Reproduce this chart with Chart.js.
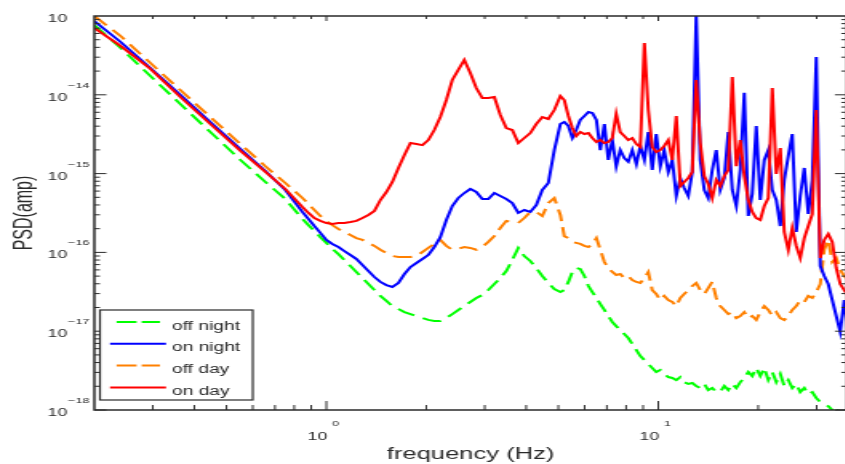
<!DOCTYPE html>
<html>
<head>
<meta charset="utf-8">
<title>PSD</title>
<script src="https://cdn.jsdelivr.net/npm/chart.js@4.4.1/dist/chart.umd.min.js"></script>
<style>
  html, body { margin: 0; padding: 0; background: #fff; overflow: hidden; }
  canvas { display: block; }
</style>
</head>
<body>
<!-- the source figure is stretched sideways, so the canvas is drawn narrow and widened by css -->
<canvas id="psd" width="532" height="464" style="width:851.2px;height:464px"></canvas>
<script>
const freq = [
  0.2, 0.24, 0.295, 0.363, 0.447, 0.551, 0.655, 0.752,
  0.847, 0.883, 0.920, 0.959, 1.000, 1.042, 1.087, 1.133, 1.181, 1.231,
  1.284, 1.338, 1.395, 1.454, 1.516, 1.580, 1.648, 1.718, 1.791, 1.867,
  1.946, 2.029, 2.115, 2.205, 2.299, 2.396, 2.498, 2.604, 2.715, 2.830,
  2.951, 3.076, 3.207, 3.343, 3.485, 3.633, 3.787, 3.948, 4.116, 4.291,
  4.473, 4.664, 4.862,
  5.07, 5.21, 5.36, 5.51, 5.66, 5.82, 5.99, 6.16, 6.33, 6.51,
  6.69, 6.88, 7.07, 7.27, 7.47, 7.68, 7.90, 8.12, 8.35, 8.59,
  8.83, 9.08, 9.33, 9.59, 9.86, 10.14, 10.42, 10.72, 11.02, 11.33,
  11.65, 11.97, 12.31, 12.66, 13.01, 13.38, 13.76, 14.14, 14.54, 14.95,
  15.37, 15.81, 16.25, 16.71, 17.18, 17.66, 18.16, 18.67, 19.19, 19.73,
  20.29, 20.86, 21.45, 22.05, 22.67, 23.31, 23.96, 24.64, 25.33, 26.04,
  26.77, 27.53, 28.30, 29.10, 29.92, 30.76, 31.62, 32.51, 33.42, 34.36,
  35.33, 36.32, 37.35
];

const offNight = [
  7.68e-14, 3.93e-14, 1.73e-14, 7.64e-15, 3.37e-15, 1.49e-15, 7.83e-16, 4.76e-16,
  2.66e-16, 2.22e-16, 1.87e-16, 1.56e-16, 1.32e-16, 1.11e-16, 9.5e-17, 8.01e-17, 6.72e-17, 5.64e-17,
  4.73e-17, 3.97e-17, 3.33e-17, 2.80e-17, 2.42e-17, 2.08e-17, 1.91e-17, 1.75e-17, 1.65e-17, 1.56e-17,
  1.47e-17, 1.39e-17, 1.35e-17, 1.35e-17, 1.47e-17, 1.65e-17, 1.86e-17, 2.08e-17, 2.35e-17, 2.64e-17,
  2.88e-17, 3.33e-17, 3.97e-17, 4.73e-17, 5.81e-17, 8.01e-17, 1.14e-16, 9.0e-17, 7.78e-17, 6.34e-17,
  5.02e-17, 4.09e-17, 3.43e-17,
  3.14e-17, 3.33e-17, 4.22e-17, 5.64e-17, 6.34e-17, 6.16e-17, 5.02e-17, 3.74e-17, 3.14e-17, 2.64e-17,
  2.21e-17, 1.86e-17, 1.56e-17, 1.31e-17, 1.16e-17, 1.04e-17, 9.21e-18, 8.19e-18, 6.88e-18, 5.77e-18,
  4.84e-18, 4.31e-18, 3.84e-18, 3.41e-18, 3.04e-18, 3.22e-18, 2.87e-18, 2.62e-18, 2.55e-18, 2.40e-18,
  2.62e-18, 2.26e-18, 2.14e-18, 2.20e-18, 2.02e-18, 1.90e-18, 2.14e-18, 1.79e-18, 1.90e-18, 1.69e-18,
  1.69e-18, 2.02e-18, 1.79e-18, 2.14e-18, 1.90e-18, 2.26e-18, 2.55e-18, 3.04e-18, 2.70e-18, 3.41e-18,
  2.70e-18, 3.41e-18, 2.40e-18, 3.04e-18, 2.26e-18, 2.87e-18, 2.02e-18, 2.40e-18, 1.90e-18, 2.14e-18,
  1.69e-18, 1.90e-18, 1.59e-18, 1.69e-18, 1.42e-18, 1.26e-18, 1.19e-18, 1.12e-18, 1.0e-18, 9.4e-19,
  1.06e-18, 9.4e-19, 9.4e-19
];

const onNight = [
  8.63e-14, 4.68e-14, 2.19e-14, 1.0e-14, 4.52e-15, 2.05e-15, 1.08e-15, 6.20e-16,
  3.26e-16, 2.66e-16, 2.16e-16, 1.77e-16, 1.44e-16, 1.28e-16, 1.17e-16, 1.04e-16, 9.27e-17, 8.25e-17,
  6.92e-17, 5.81e-17, 4.87e-17, 4.22e-17, 3.85e-17, 3.64e-17, 4.09e-17, 5.32e-17, 6.53e-17, 7.34e-17,
  8.25e-17, 9.27e-17, 1.17e-16, 1.56e-16, 2.58e-16, 3.88e-16, 4.90e-16, 5.67e-16, 6.38e-16, 5.84e-16,
  4.76e-16, 4.76e-16, 5.67e-16, 5.20e-16, 4.76e-16, 4.23e-16, 3.17e-16, 3.45e-16, 3.26e-16, 3.99e-16,
  6.20e-16, 7.60e-16, 1.99e-15,
  4.26e-15, 4.52e-15, 4.02e-15, 2.83e-15, 3.57e-15, 4.79e-15, 5.38e-15, 6.05e-15, 5.87e-15, 4.79e-15,
  1.99e-15, 4.26e-15, 1.49e-15, 2.67e-15, 1.24e-15, 1.99e-15, 1.57e-15, 1.41e-15, 1.99e-15, 1.32e-15,
  2.24e-15, 1.49e-15, 3.37e-15, 1.11e-15, 3.18e-15, 1.24e-15, 1.99e-15, 1.05e-15, 1.49e-15, 5.20e-16,
  8.80e-16, 6.57e-16, 5.20e-16, 1.05e-15, 1.05e-13, 1.49e-15, 6.20e-16, 4.90e-16, 1.11e-15, 1.99e-15,
  6.20e-16, 8.80e-16, 3.37e-15, 6.20e-16, 3.88e-16, 1.11e-15, 1.06e-14, 2.90e-16, 5.51e-16, 4.02e-15,
  4.62e-16, 1.49e-15, 1.99e-15, 6.20e-16, 4.62e-16, 2.16e-16, 8.30e-16, 1.67e-15, 3.18e-15, 1.82e-16,
  5.20e-16, 1.18e-15, 3.07e-16, 8.30e-16, 3.02e-14, 6.72e-17, 5.02e-17, 3.97e-17, 2.49e-17, 1.56e-17,
  9.77e-18, 2.49e-17, 8.69e-18
];

const offDay = [
  1.00e-13, 5.57e-14, 2.53e-14, 1.15e-14, 5.22e-15, 2.37e-15, 1.24e-15, 7.60e-16,
  4.90e-16, 4.11e-16, 3.45e-16, 2.90e-16, 2.51e-16, 2.22e-16, 1.98e-16, 1.82e-16, 1.66e-16, 1.52e-16,
  1.44e-16, 1.32e-16, 1.21e-16, 1.08e-16, 9.81e-17, 9.00e-17, 8.74e-17, 8.74e-17, 8.74e-17, 9.00e-17,
  1.01e-16, 1.14e-16, 1.28e-16, 1.44e-16, 1.21e-16, 1.08e-16, 1.11e-16, 1.17e-16, 1.14e-16, 1.08e-16,
  1.17e-16, 1.36e-16, 1.61e-16, 2.04e-16, 2.51e-16, 2.43e-16, 2.36e-16, 2.73e-16, 3.26e-16, 3.26e-16,
  2.90e-16, 4.23e-16, 4.90e-16,
  2.99e-16, 1.61e-16, 1.52e-16, 1.36e-16, 1.32e-16, 1.28e-16, 1.21e-16, 1.17e-16, 1.28e-16, 1.52e-16,
  1.08e-16, 7.55e-17, 6.34e-17, 5.64e-17, 5.17e-17, 5.32e-17, 4.73e-17, 5.02e-17, 4.47e-17, 4.22e-17,
  4.09e-17, 4.73e-17, 5.64e-17, 3.33e-17, 2.96e-17, 2.49e-17, 2.80e-17, 2.49e-17, 2.35e-17, 2.08e-17,
  2.64e-17, 2.96e-17, 3.33e-17, 3.74e-17, 4.09e-17, 3.33e-17, 2.96e-17, 3.53e-17, 4.22e-17, 2.64e-17,
  2.08e-17, 1.86e-17, 1.65e-17, 1.75e-17, 1.47e-17, 1.56e-17, 1.75e-17, 1.47e-17, 1.56e-17, 1.39e-17,
  1.75e-17, 2.08e-17, 1.86e-17, 1.56e-17, 1.75e-17, 1.47e-17, 1.39e-17, 1.56e-17, 1.86e-17, 2.08e-17,
  2.49e-17, 2.35e-17, 2.80e-17, 2.64e-17, 3.14e-17, 3.97e-17, 1.08e-16, 1.44e-16, 7.55e-17, 8.49e-17,
  5.98e-17, 5.02e-17, 4.47e-17
];

const onDay = [
  7.04e-14, 4.16e-14, 2.13e-14, 9.37e-15, 4.26e-15, 1.94e-15, 1.05e-15, 6.38e-16,
  3.77e-16, 3.17e-16, 2.73e-16, 2.51e-16, 2.36e-16, 2.29e-16, 2.36e-16, 2.36e-16, 2.43e-16, 2.51e-16,
  2.73e-16, 2.99e-16, 3.36e-16, 4.62e-16, 5.84e-16, 7.83e-16, 1.18e-15, 1.72e-15, 2.44e-15, 2.37e-15,
  2.30e-15, 2.67e-15, 3.57e-15, 5.22e-15, 8.59e-15, 1.54e-14, 2.07e-14, 2.77e-14, 1.89e-14, 1.22e-14,
  9.10e-15, 9.10e-15, 9.37e-15, 5.54e-15, 3.79e-15, 3.57e-15, 2.44e-15, 2.83e-15, 3.27e-15, 4.26e-15,
  5.22e-15, 4.93e-15, 6.41e-15,
  9.65e-15, 8.59e-15, 5.38e-15, 3.79e-15, 3.00e-15, 3.37e-15, 3.18e-15, 3.27e-15, 2.83e-15, 2.52e-15,
  2.67e-15, 2.44e-15, 2.52e-15, 2.83e-15, 5.71e-15, 3.37e-15, 3.00e-15, 2.67e-15, 2.83e-15, 2.37e-15,
  2.17e-15, 4.54e-14, 6.41e-15, 2.17e-15, 1.88e-15, 1.99e-15, 2.24e-15, 2.67e-15, 1.49e-15, 5.38e-15,
  6.96e-16, 7.83e-16, 8.80e-16, 1.05e-15, 1.54e-14, 2.44e-15, 9.33e-16, 7.38e-16, 4.90e-16, 8.30e-16,
  6.96e-16, 9.33e-16, 1.11e-15, 1.68e-14, 1.24e-15, 2.67e-15, 9.33e-16, 4.62e-16, 3.26e-16, 2.73e-16,
  2.58e-16, 3.88e-16, 4.90e-16, 1.22e-14, 9.9e-16, 2.11e-15, 1.82e-16, 1.08e-16, 2.04e-16, 1.21e-16,
  8.49e-17, 1.52e-16, 2.16e-16, 3.07e-16, 6.41e-15, 8.49e-17, 1.44e-16, 1.72e-16, 1.36e-16, 6.34e-17,
  3.97e-17, 3.33e-17, 2.80e-17
];

const xTickExps = [0, 1];
const yTickExps = [-18, -17, -16, -15, -14, -13];

const FONT = '"Liberation Sans", Arial, Helvetica, sans-serif';
const INK = '#2a2a2a';

// legend order is off night, on night, off day, on day; red is painted on top
const series = [
  { label: 'off night', values: offNight, color: '#00ff00', dash: [12, 6], order: 4 },
  { label: 'on night', values: onNight, color: '#0000ff', dash: [], order: 2 },
  { label: 'off day', values: offDay, color: '#ff8000', dash: [12, 6], order: 3 },
  { label: 'on day', values: onDay, color: '#ff0000', dash: [], order: 1 }
];

// frame, inward ticks, "10^n" labels and the boxed legend
const framePlugin = {
  id: 'framePlugin',
  afterDraw(chart) {
    const { ctx, chartArea: a, scales: { x, y } } = chart;
    ctx.save();
    ctx.strokeStyle = INK;
    ctx.lineWidth = 1;
    ctx.beginPath();
    for (let e = -1; e <= 1; e++) {
      for (let m = 1; m <= 9; m++) {
        const v = m * Math.pow(10, e);
        if (v <= x.min || v >= x.max) continue;
        const px = x.getPixelForValue(v);
        ctx.moveTo(px, a.bottom);
        ctx.lineTo(px, a.bottom - (m === 1 ? 9 : 5));
        ctx.moveTo(px, a.top);
        ctx.lineTo(px, a.top + (m === 1 ? 5 : 3));
      }
    }
    for (let e = -18; e < -13; e++) {
      for (let m = 1; m <= 9; m++) {
        const py = y.getPixelForValue(m * Math.pow(10, e));
        const len = m === 1 ? 7.5 : 3.5;
        ctx.moveTo(a.left, py);
        ctx.lineTo(a.left + len, py);
        ctx.moveTo(a.right, py);
        ctx.lineTo(a.right - len, py);
      }
    }
    ctx.stroke();
    ctx.lineWidth = 1.5;
    ctx.strokeRect(a.left, a.top, a.right - a.left, a.bottom - a.top);

    ctx.fillStyle = INK;
    ctx.textBaseline = 'alphabetic';
    xTickExps.forEach(e => {
      const px = x.getPixelForValue(Math.pow(10, e));
      ctx.font = '11px ' + FONT;
      ctx.textAlign = 'right';
      ctx.fillText('10', px + 0.5, a.bottom + 29.5);
      ctx.font = '8px ' + FONT;
      ctx.textAlign = 'left';
      ctx.fillText(String(e), px + 3.5, a.bottom + 15.5);
    });
    yTickExps.forEach(e => {
      const py = y.getPixelForValue(Math.pow(10, e));
      ctx.font = '11px ' + FONT;
      ctx.textAlign = 'right';
      ctx.fillText('10', 42, py + 6);
      if (e < -13) { // top exponent is cropped off in the figure
        ctx.font = '8px ' + FONT;
        ctx.textAlign = 'left';
        ctx.fillText('\u2212' + Math.abs(e), 42.5, py - 7);
      }
    });

    // legend box
    ctx.fillStyle = '#fff';
    ctx.fillRect(62.5, 310, 95.5, 90);
    ctx.strokeStyle = INK;
    ctx.lineWidth = 1.2;
    ctx.strokeRect(62.5, 310, 95.5, 90);
    chart.data.datasets.forEach((ds, i) => {
      const rowY = 322 + i * 21.8;
      const dashed = ds.borderDash && ds.borderDash.length;
      ctx.strokeStyle = ds.borderColor;
      ctx.lineWidth = 2;
      ctx.setLineDash(dashed ? [12.5, 3.2] : []);
      ctx.beginPath();
      ctx.moveTo(dashed ? 72.9 : 68.8, rowY);
      ctx.lineTo(dashed ? 100 : 103.8, rowY);
      ctx.stroke();
      ctx.setLineDash([]);
      ctx.fillStyle = INK;
      ctx.font = '12px ' + FONT;
      ctx.textAlign = 'left';
      ctx.fillText(ds.label, 107.5, rowY + 7.5);
    });
    ctx.restore();
  }
};

new Chart(document.getElementById('psd'), {
  type: 'line',
  data: {
    datasets: series.map(s => ({
      label: s.label,
      data: freq.map((f, i) => ({ x: f, y: s.values[i] })),
      borderColor: s.color,
      backgroundColor: s.color,
      borderWidth: 2,
      borderDash: s.dash,
      pointRadius: 0,
      tension: 0,
      fill: false,
      order: s.order
    }))
  },
  options: {
    responsive: false,
    animation: false,
    events: [],
    layout: { padding: { top: 16, right: 2.6, left: 0, bottom: 0 } },
    plugins: {
      legend: { display: false },
      tooltip: { enabled: false }
    },
    scales: {
      x: {
        type: 'logarithmic',
        min: 0.2,
        max: 37,
        ticks: { display: false },
        grid: { display: false },
        border: { display: false },
        title: {
          display: true,
          text: 'frequency (Hz)',
          color: INK,
          font: { family: FONT, size: 16 },
          padding: { top: 0, bottom: 0 }
        },
        afterFit: s => { s.height = 54; }
      },
      y: {
        type: 'logarithmic',
        min: 1e-18,
        max: 1e-13,
        ticks: { display: false },
        grid: { display: false },
        border: { display: false },
        title: {
          display: true,
          text: 'PSD(amp)',
          color: INK,
          font: { family: FONT, size: 16 },
          padding: { top: 6, bottom: 0 }
        },
        afterFit: s => { s.width = 59; }
      }
    }
  },
  plugins: [framePlugin]
});
</script>
</body>
</html>
